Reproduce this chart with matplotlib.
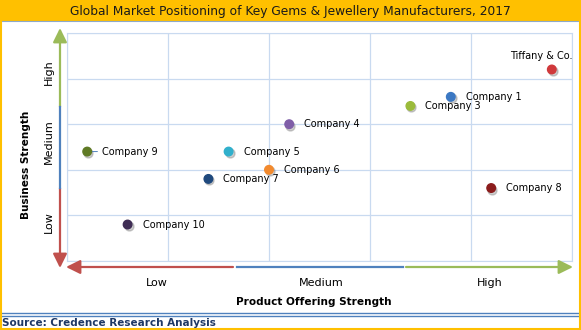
import matplotlib.pyplot as plt
from matplotlib.patches import Rectangle, FancyArrowPatch
from matplotlib.lines import Line2D
from matplotlib.transforms import ScaledTranslation

# positioning scores on a 0-10 scale
companies = ['Tiffany & Co.', 'Company 1', 'Company 3', 'Company 4', 'Company 5',
             'Company 6', 'Company 7', 'Company 8', 'Company 9', 'Company 10']
product_strength = [9.6, 7.6, 6.8, 4.4, 3.2, 4.0, 2.8, 8.4, 0.4, 1.2]
business_strength = [8.4, 7.2, 6.8, 6.0, 4.8, 4.0, 3.6, 3.2, 4.8, 1.6]
colors = ['#d0393b', '#3b78c3', '#9bbb3b', '#7f5ea8', '#31b0cc',
          '#f28a2e', '#1f497d', '#8b1c1c', '#5f7a25', '#3f2d55']
levels = ['Low', 'Medium', 'High']

W, H = 581, 330
fig = plt.figure(figsize=(W / 100, H / 100), dpi=100)

def fx(px):
    return px / W

def fy(py):
    return 1 - py / H

# frame, title bar and source strip
fig.patches.append(Rectangle((0, fy(21)), 1, 21 / H, transform=fig.transFigure,
                             facecolor='#ffc000', edgecolor='none', zorder=0))
fig.add_artist(Line2D([0, 1], [fy(21), fy(21)], color='#8ea9c8', lw=0.8))
fig.patches.append(Rectangle((0.001, 0.002), 0.997, 0.996, transform=fig.transFigure,
                             facecolor='none', edgecolor='#ffc000', lw=1.5, zorder=5))
fig.add_artist(Line2D([0, 1], [fy(313), fy(313)], color='#4f81bd', lw=1))
fig.add_artist(Line2D([0, 1], [fy(315.5), fy(315.5)], color='#4f81bd', lw=1))
fig.text(0.5, fy(11), 'Global Market Positioning of Key Gems & Jewellery Manufacturers, 2017',
         ha='center', va='center', fontsize=8.8, color='#1a1a1a')
fig.text(fx(2), fy(323), 'Source: Credence Research Analysis', ha='left', va='center',
         fontsize=7.5, fontweight='bold', color='#1f3864')

ax = fig.add_axes([fx(67), fy(261), fx(572) - fx(67), (261 - 33) / H])
ax.set_xlim(0, 10)
ax.set_ylim(0, 10)
ax.set_xticks(range(0, 11, 2))
ax.set_yticks(range(0, 11, 2))
ax.tick_params(length=0, labelbottom=False, labelleft=False)
ax.grid(True, color='#c9daf0', lw=0.9)
for sp in ax.spines.values():
    sp.set_color('#c9daf0')

# shadowed dots
shadow = ax.transData + ScaledTranslation(1 / 100, -1.5 / 100, fig.dpi_scale_trans)
ax.scatter(product_strength, business_strength, s=42, color='#777777', alpha=0.35,
           zorder=3, transform=shadow)
ax.scatter(product_strength, business_strength, s=38, c=colors, zorder=4)

for name, x, y in zip(companies, product_strength, business_strength):
    if name == 'Tiffany & Co.':
        ax.annotate(name, (x, y), xytext=(-11, 13), textcoords='offset pixels',
                    ha='center', va='center', fontsize=7)
    else:
        ax.annotate(name, (x, y), xytext=(15, 0), textcoords='offset pixels',
                    ha='left', va='center', fontsize=7)
# leader line for Company 9
ax.annotate('', (0.4, 4.8), xytext=(13, 0), textcoords='offset pixels',
            arrowprops=dict(arrowstyle='-', color='#4f81bd', lw=0.7))

def seg(x0, y0, x1, y1, color, head=False):
    if head:
        fig.add_artist(FancyArrowPatch(
            (fx(x0), fy(y0)), (fx(x1), fy(y1)), transform=fig.transFigure,
            arrowstyle='-|>,head_length=8.5,head_width=4.2', color=color, lw=1.6,
            mutation_scale=1, shrinkA=0, shrinkB=0))
    else:
        fig.add_artist(Line2D([fx(x0), fx(x1)], [fy(y0), fy(y1)], color=color, lw=1.6))

red, blue, green = '#c0504d', '#4f81bd', '#9bbb59'
# vertical arrow
seg(60, 107, 60, 28, green, head=True)
seg(60, 107, 60, 188, blue)
seg(60, 188, 60, 268, red, head=True)
# horizontal arrow
seg(233, 267, 66, 267, red, head=True)
seg(237, 267, 403, 267, blue)
seg(406, 267, 573, 267, green, head=True)

for lab, py in zip(levels, [222, 142, 72]):
    fig.text(fx(49), fy(py), lab, rotation=90, ha='center', va='center', fontsize=8)
for lab, px in zip(levels, [157, 321, 490]):
    fig.text(fx(px), fy(283), lab, ha='center', va='center', fontsize=8)

fig.text(fx(314), fy(302), 'Product Offering Strength', ha='center', va='center',
         fontsize=7.6, fontweight='bold')
fig.text(fx(26), fy(165), 'Business Strength', rotation=90, ha='center', va='center',
         fontsize=7.6, fontweight='bold')

fig.savefig('out.png', dpi=100)
